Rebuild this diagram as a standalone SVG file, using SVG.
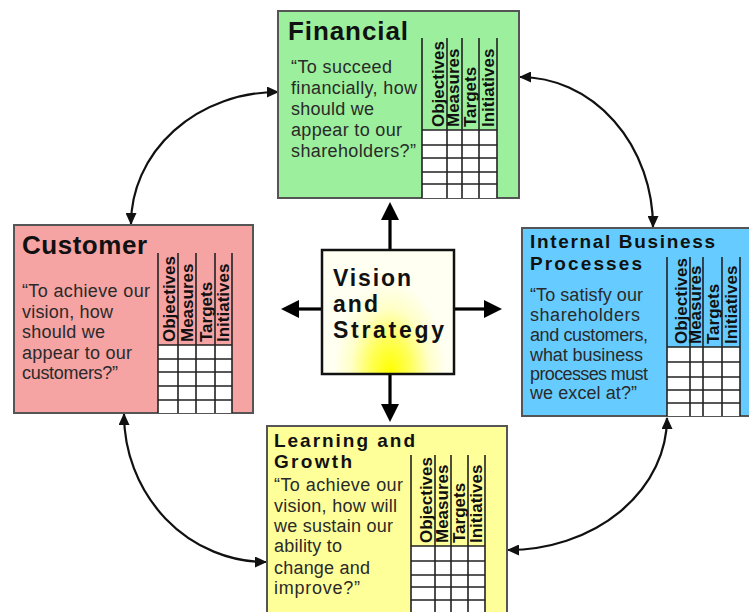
<svg xmlns="http://www.w3.org/2000/svg" width="749" height="612" viewBox="0 0 749 612">
<style>
.box{stroke:#555;stroke-width:2}
.title{font-family:"Liberation Sans",Arial,sans-serif;font-weight:bold;fill:#111}
.q{font-family:"Liberation Sans",Arial,sans-serif;font-size:18px;fill:#2a2a2a}
.lbl{font-family:"Liberation Sans",Arial,sans-serif;font-weight:bold;font-size:17px;fill:#111}
.cell{fill:#fff}
.grid{stroke:#222;stroke-width:1.6;fill:none}
.arrow{stroke:#000;stroke-width:3.2;fill:none}
.curve{stroke:#111;stroke-width:2.2;fill:none}
</style>
<defs>
<marker id="bigHead" markerUnits="userSpaceOnUse" markerWidth="18" markerHeight="18" refX="1" refY="9" orient="auto" viewBox="0 0 18 18">
<path d="M0,0 L18,9 L0,18 z" fill="#000"/>
</marker>
<marker id="smallHead" markerUnits="userSpaceOnUse" markerWidth="12" markerHeight="11" refX="11" refY="5.5" orient="auto-start-reverse" viewBox="0 0 12 11">
<path d="M0,0 L12,5.5 L0,11 z" fill="#111"/>
</marker>
<radialGradient id="glow" gradientUnits="userSpaceOnUse" cx="390" cy="372" r="70" gradientTransform="translate(390 372) scale(0.8 1.3) translate(-390 -372)">
<stop offset="0" stop-color="#ffff00"/>
<stop offset="0.35" stop-color="#ffff55"/>
<stop offset="0.7" stop-color="#ffffc8"/>
<stop offset="1" stop-color="#fffff2"/>
</radialGradient>
</defs>

<g id="connectors">
<path class="arrow" d="M390,250 V219" marker-end="url(#bigHead)"/>
<path class="arrow" d="M390,374 V405" marker-end="url(#bigHead)"/>
<path class="arrow" d="M322,309 H298" marker-end="url(#bigHead)"/>
<path class="arrow" d="M454,309 H485" marker-end="url(#bigHead)"/>
<path class="curve" d="M278,92 A147,132 0 0 0 131,224" marker-start="url(#smallHead)" marker-end="url(#smallHead)"/>
<path class="curve" d="M520,77 A133,150 0 0 1 653,227" marker-start="url(#smallHead)" marker-end="url(#smallHead)"/>
<path class="curve" d="M124,414 A142,148 0 0 0 266,562" marker-start="url(#smallHead)" marker-end="url(#smallHead)"/>
<path class="curve" d="M667,418 A159,132 0 0 1 508,550" marker-start="url(#smallHead)" marker-end="url(#smallHead)"/>
</g>

<g id="financial">
<rect class="box" x="278" y="11" width="241" height="187" fill="#9cef9c"/>
<text class="title" x="288" y="40" font-size="26" textLength="120" lengthAdjust="spacing">Financial</text>
<text class="q" x="291" y="73" textLength="101" lengthAdjust="spacing">“To succeed</text>
<text class="q" x="291" y="94" textLength="126" lengthAdjust="spacing">financially, how</text>
<text class="q" x="291" y="115" textLength="83" lengthAdjust="spacing">should we</text>
<text class="q" x="291" y="136" textLength="111" lengthAdjust="spacing">appear to our</text>
<text class="q" x="291" y="157" textLength="125" lengthAdjust="spacing">shareholders?”</text>
<rect class="cell" x="422" y="130" width="75" height="68"/>
<path class="grid" d="M422,38 V198 M447,38 V198 M462,38 V198 M479,38 V198 M497,38 V198 M422,130 H497 M422,145 H497 M422,158 H497 M422,172 H497 M422,184 H497"/>
<text class="lbl" transform="translate(444 127) rotate(-90)">Objectives</text>
<text class="lbl" transform="translate(459 127) rotate(-90)">Measures</text>
<text class="lbl" transform="translate(476 127) rotate(-90)">Targets</text>
<text class="lbl" transform="translate(494 127) rotate(-90)">Initiatives</text>
</g>

<g id="customer">
<rect class="box" x="14" y="225" width="239" height="188" fill="#f5a3a3"/>
<text class="title" x="22" y="254" font-size="26" textLength="125" lengthAdjust="spacing">Customer</text>
<text class="q" x="22" y="297" textLength="128" lengthAdjust="spacing">“To achieve our</text>
<text class="q" x="22" y="318" textLength="91" lengthAdjust="spacing">vision, how</text>
<text class="q" x="22" y="338" textLength="83" lengthAdjust="spacing">should we</text>
<text class="q" x="22" y="359" textLength="110" lengthAdjust="spacing">appear to our</text>
<text class="q" x="22" y="379" textLength="96" lengthAdjust="spacing">customers?”</text>
<rect class="cell" x="158" y="345" width="74" height="68"/>
<path class="grid" d="M158,253 V413 M178,253 V413 M196,253 V413 M215,253 V413 M232,253 V413 M158,345 H232 M158,359 H232 M158,372 H232 M158,386 H232 M158,400 H232"/>
<text class="lbl" transform="translate(175 342) rotate(-90)">Objectives</text>
<text class="lbl" transform="translate(193 342) rotate(-90)">Measures</text>
<text class="lbl" transform="translate(212 342) rotate(-90)">Targets</text>
<text class="lbl" transform="translate(229 342) rotate(-90)">Initiatives</text>
</g>

<g id="internal">
<rect class="box" x="522" y="228" width="228" height="188" fill="#66ccff"/>
<text class="title" x="530" y="248" font-size="19" textLength="185" lengthAdjust="spacing">Internal Business</text>
<text class="title" x="530" y="270" font-size="19" textLength="112" lengthAdjust="spacing">Processes</text>
<text class="q" x="530" y="301" font-size="17.5" textLength="113" lengthAdjust="spacing">“To satisfy our</text>
<text class="q" x="530" y="321" font-size="17.5" textLength="110" lengthAdjust="spacing">shareholders</text>
<text class="q" x="530" y="341" font-size="17.5" textLength="118" lengthAdjust="spacing">and customers,</text>
<text class="q" x="530" y="361" font-size="17.5" textLength="113" lengthAdjust="spacing">what business</text>
<text class="q" x="530" y="380" font-size="17.5" textLength="118" lengthAdjust="spacing">processes must</text>
<text class="q" x="530" y="399" font-size="17.5" textLength="107" lengthAdjust="spacing">we excel at?”</text>
<rect class="cell" x="667" y="347" width="73" height="69"/>
<path class="grid" d="M667,257 V416 M690,257 V416 M703,257 V416 M722,257 V416 M740,257 V416 M667,347 H740 M667,362 H740 M667,377 H740 M667,390 H740 M667,403 H740"/>
<text class="lbl" transform="translate(687 344) rotate(-90)">Objectives</text>
<text class="lbl" transform="translate(701 344) rotate(-90)">Measures</text>
<text class="lbl" transform="translate(719 344) rotate(-90)">Targets</text>
<text class="lbl" transform="translate(737 344) rotate(-90)">Initiatives</text>
</g>

<g id="learning">
<rect class="box" x="267" y="426" width="240" height="192" fill="#ffff99"/>
<text class="title" x="274" y="447" font-size="19" textLength="141" lengthAdjust="spacing">Learning and</text>
<text class="title" x="274" y="468" font-size="19" textLength="78" lengthAdjust="spacing">Growth</text>
<text class="q" x="274" y="491" textLength="129" lengthAdjust="spacing">“To achieve our</text>
<text class="q" x="274" y="512" textLength="123" lengthAdjust="spacing">vision, how will</text>
<text class="q" x="274" y="532" textLength="119" lengthAdjust="spacing">we sustain our</text>
<text class="q" x="274" y="552" textLength="68" lengthAdjust="spacing">ability to</text>
<text class="q" x="274" y="574" textLength="96" lengthAdjust="spacing">change and</text>
<text class="q" x="274" y="594" textLength="86" lengthAdjust="spacing">improve?”</text>
<rect class="cell" x="411" y="546" width="74" height="70"/>
<path class="grid" d="M411,455 V616 M435,455 V616 M451,455 V616 M468,455 V616 M485,455 V616 M411,546 H485 M411,561 H485 M411,575 H485 M411,587 H485 M411,600 H485"/>
<text class="lbl" transform="translate(432 543) rotate(-90)">Objectives</text>
<text class="lbl" transform="translate(448 543) rotate(-90)">Measures</text>
<text class="lbl" transform="translate(465 543) rotate(-90)">Targets</text>
<text class="lbl" transform="translate(482 543) rotate(-90)">Initiatives</text>
</g>

<g id="vision">
<rect x="322" y="250" width="132" height="124" fill="url(#glow)" stroke="#111" stroke-width="2.5"/>
<text class="title" x="333" y="286" font-size="23" textLength="78" lengthAdjust="spacing">Vision</text>
<text class="title" x="333" y="312" font-size="23" textLength="45" lengthAdjust="spacing">and</text>
<text class="title" x="333" y="338" font-size="23" textLength="111" lengthAdjust="spacing">Strategy</text>
</g>
</svg>
